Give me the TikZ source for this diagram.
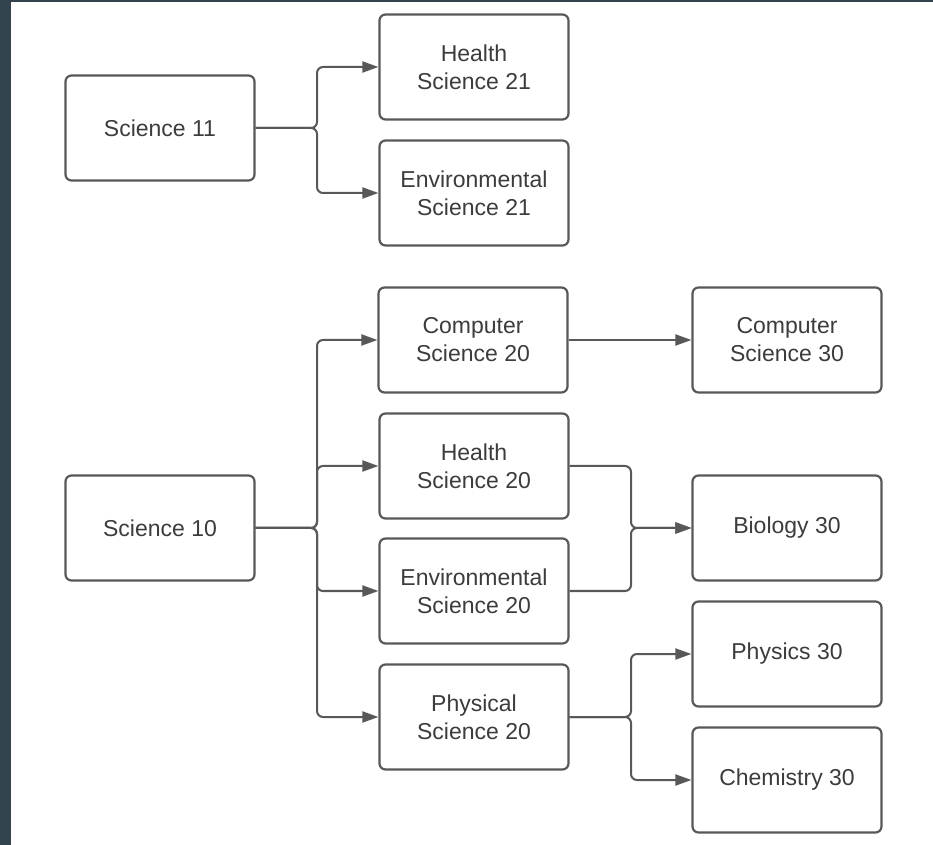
\documentclass[tikz,border=0pt]{standalone}
\usepackage{fontspec}
\setmainfont{Liberation Sans}
\usetikzlibrary{arrows.meta}
\definecolor{frame}{RGB}{52,68,78}
\definecolor{line}{RGB}{88,88,88}
\definecolor{ink}{RGB}{60,60,60}

\begin{document}
\begin{tikzpicture}[x=0.5pt, y=-0.5pt,
  course/.style={draw=line, line width=1.1pt, rounded corners=3pt, fill=white,
    minimum width=94.5pt, minimum height=52.5pt, inner sep=0pt, align=center,
    text=ink, font=\fontsize{11.5}{14}\selectfont},
  arr/.style={draw=line, line width=1pt, rounded corners=3pt,
    -{Triangle[length=8pt, width=5.5pt]}}]
\fill[frame] (0,0) rectangle (933,845);
\fill[white] (11,2) rectangle (933,845);
\useasboundingbox (0,0) rectangle (933,845);
% top group
\node[course] (sci11) at (160,128) {Science 11};
\node[course] (hs21) at (474,67) {Health\\Science 21};
\node[course] (es21) at (474,193) {Environmental\\Science 21};
% bottom group
\node[course] (sci10) at (160,528) {Science 10};
\node[course] (cs20) at (473,340) {Computer\\Science 20};
\node[course] (hs20) at (474,466) {Health\\Science 20};
\node[course] (es20) at (474,591) {Environmental\\Science 20};
\node[course] (ps20) at (474,717) {Physical\\Science 20};
\node[course] (cs30) at (787,340) {Computer\\Science 30};
\node[course] (bio30) at (787,528) {Biology 30};
\node[course] (phy30) at (787,654) {Physics 30};
\node[course] (chem30) at (787,780) {Chemistry 30};
% connectors
\draw[arr] (sci11.east) -- (317,128) |- (hs21.west);
\draw[arr] (sci11.east) -- (317,128) |- (es21.west);
\draw[arr] (sci10.east) -- (317,528) |- (cs20.west);
\draw[arr] (sci10.east) -- (317,528) |- (hs20.west);
\draw[arr] (sci10.east) -- (317,528) |- (es20.west);
\draw[arr] (sci10.east) -- (317,528) |- (ps20.west);
\draw[arr] (cs20.east) -- (cs30.west);
\draw[arr] (hs20.east) -| (631,528) -- (bio30.west);
\draw[arr] (es20.east) -| (631,528) -- (bio30.west);
\draw[arr] (ps20.east) -- (631,717) |- (phy30.west);
\draw[arr] (ps20.east) -- (631,717) |- (chem30.west);
\end{tikzpicture}
\end{document}
